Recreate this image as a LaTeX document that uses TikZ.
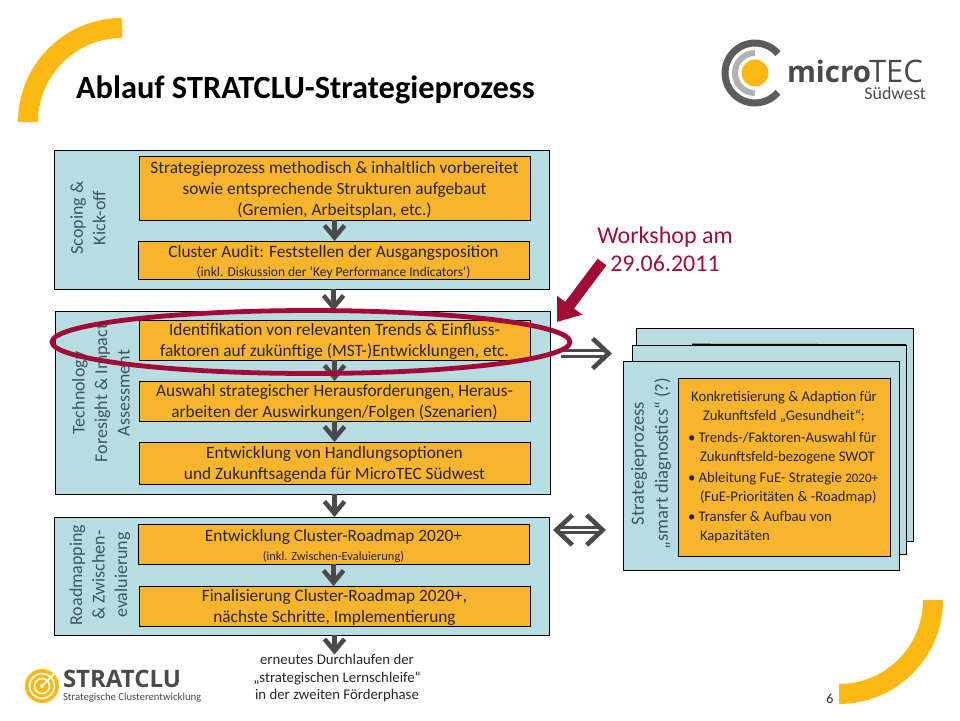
\documentclass[tikz,border=0pt]{standalone}
\usepackage{fontspec}
\setmainfont{Carlito}
\newfontfamily\logofont{Open Sans}
\usetikzlibrary{arrows.meta,calc}
\definecolor{panelblue}{HTML}{B7DDE3}
\definecolor{boxorange}{HTML}{F9B42D}
\definecolor{arrowgrey}{HTML}{4A4A4A}
\definecolor{ringred}{HTML}{A20B35}
\definecolor{labelgrey}{HTML}{3F5560}
\definecolor{sunyellow}{HTML}{FDB913}
\newcommand{\fs}[2]{\fontsize{#1}{#2}\selectfont}
\newcommand{\lift}{\rule{0pt}{15.5pt}}
\tikzset{
  panel/.style={draw=black,line width=0.9pt,fill=panelblue,inner sep=0pt,outer sep=0pt,anchor=north west},
  orangebox/.style={draw=black,line width=0.9pt,fill=boxorange,inner sep=0pt,outer sep=0pt,anchor=north west,align=center,text=black!85,font=\fs{17.3}{21}},
  sidelabel/.style={rotate=90,align=center,text=labelgrey,font=\fs{18}{22.5}},
  flowarrow/.style={draw=arrowgrey,line width=5pt,-{Straight Barb[length=12pt,width=20pt,line width=4.5pt]}},
  dblarrow/.style={draw=arrowgrey,line width=3pt,double=white,double distance=2.6pt},
  plain/.style={align=center,inner sep=0pt,outer sep=0pt},
  flowshift/.style={shift={(2.5,0)}},
  stacktext/.style={plain,text=black!85,font=\fs{14.7}{19}},
}
\begin{document}
\begin{tikzpicture}[x=1pt,y=-1pt]
\useasboundingbox (0,0) rectangle (960,720);
% corner arcs
\fill[sunyellow] (18,122) arc[start angle=180,end angle=90,x radius=104,y radius=-104] -- (122,38) arc[start angle=90,end angle=180,x radius=84,y radius=-84] -- cycle;
\fill[sunyellow] (943,600) arc[start angle=0,end angle=-90,x radius=104,y radius=-104] -- (839,684) arc[start angle=-90,end angle=0,x radius=84,y radius=-84] -- cycle;
% title
\node[plain,anchor=base west,font=\fs{32.4}{36}\bfseries] (title) at (76,98) {Ablauf STRATCLU-Strategieprozess};
% microTEC logo
\coordinate (mt) at (755,73);
\draw[arrowgrey!90,line width=7pt] ($(mt)+(30*0.766,-30*0.643)$) arc[start angle=40,end angle=320,x radius=30,y radius=-30];
\draw[black!30,line width=6pt] ($(mt)+(0,-20)$) arc[start angle=90,end angle=270,x radius=20,y radius=-20];
\fill[sunyellow] (mt) circle[radius=13.5];
\node[plain,anchor=base west,text=arrowgrey,font=\logofont\fs{29.5}{30}] (mtx) at (787,82) {\textbf{micro}};
\node[plain,anchor=base west,text=arrowgrey,font=\logofont\fs{31}{31}] (mty) at (869,82) {TEC};
\node[plain,anchor=base east,text=arrowgrey,font=\fs{18}{20}] (sw) at (926,99) {Südwest};
% panels
\node[panel,minimum width=495pt,minimum height=139pt] (p1) at (54,150) {};
\node[panel,minimum width=495pt,minimum height=183pt] (p2) at (55,311) {};
\node[panel,minimum width=495pt,minimum height=118pt] (p3) at (54,517) {};
% side labels
\node[sidelabel] (l1) at (88,218) {Scoping \&\\Kick-off};
\node[sidelabel] (l2) at (101,393) {Technology\\Foresight \& Impact\\Assessment};
\node[sidelabel] (l3) at (100,575) {Roadmapping\\\& Zwischen-\\evaluierung};
% orange boxes
\node[orangebox,minimum width=391pt,minimum height=64pt] (o1) at (139,156) {\lift Strategieprozess methodisch \& inhaltlich vorbereitet\\sowie entsprechende Strukturen aufgebaut\\(Gremien, Arbeitsplan, etc.)};
\node[orangebox,minimum width=391pt,minimum height=38pt] (o2) at (138,241) {\lift Cluster Audit: Feststellen der Ausgangsposition\\[-2pt]{\fs{13.5}{14}(inkl. Diskussion der `Key Performance Indicators`)}};
\node[orangebox,minimum width=391pt,minimum height=40pt] (o3) at (139,320) {\lift Identifikation von relevanten Trends \& Einfluss-\\faktoren auf zukünftige (MST-)Entwicklungen, etc.};
\node[orangebox,minimum width=391pt,minimum height=40pt] (o4) at (139,381) {\lift Auswahl strategischer Herausforderungen, Heraus-\\arbeiten der Auswirkungen/Folgen (Szenarien)};
\node[orangebox,minimum width=391pt,minimum height=42pt] (o5) at (139,442) {\lift Entwicklung von Handlungsoptionen\\und Zukunftsagenda für MicroTEC Südwest};
\node[orangebox,minimum width=391pt,minimum height=40pt] (o6) at (138,524) {\lift Entwicklung Cluster-Roadmap 2020+\\[-2pt]{\fs{12.4}{14}(inkl. Zwischen-Evaluierung)}};
\node[orangebox,minimum width=391pt,minimum height=40pt] (o7) at (139,586) {\lift Finalisierung Cluster-Roadmap 2020+,\\nächste Schritte, Implementierung};
% flow arrows
\draw[flowarrow,flowshift] (o1.south) -- (o1.south |- o2.north);
\draw[flowarrow,flowshift] (o2.south |- p1.south) -- (o2.south |- p2.north);
\draw[flowarrow,flowshift] (o3.south) -- (o3.south |- o4.north);
\draw[flowarrow,flowshift] (o4.south) -- (o4.south |- o5.north);
\draw[flowarrow,flowshift] (o5.south |- p2.south) -- (o5.south |- p3.north);
\draw[flowarrow,flowshift] (o6.south) -- (o6.south |- o7.north);
\node[plain,anchor=north,text=black!85,font=\fs{14.8}{17.5}] (next) at (337,654.5) {erneutes Durchlaufen der\\„strategischen Lernschleife“\\in der zweiten Förderphase};
\draw[flowarrow,flowshift] (o7.south |- p3.south) -- (o7.south |- next.north);
% right stack
\node[panel,minimum width=277pt,minimum height=213pt] (s3) at (636,328) {};
\node[panel,minimum width=274pt,minimum height=209pt] (s2) at (632,345) {};
\coordinate (s2top) at (692,344.5);
\draw[line width=1.6pt] (s2top) -- (s2.north east);
\node[panel,minimum width=276pt,minimum height=209pt] (s1) at (623,361) {};
\node[orangebox,minimum width=212pt,minimum height=178pt] (so) at (678,378) {};
\node[sidelabel,font=\fs{18.6}{24}] (sl) at (651,463.5) {Strategieprozess\\„smart diagnostics“ (?)};
\node[stacktext,anchor=north] (st0) at (784,391) {Konkretisierung \& Adaption für\\Zukunftsfeld „Gesundheit“:};
\node[stacktext,anchor=north west,align=left] (st1) at (688,432) {• Trends-/Faktoren-Auswahl für\\\hspace*{12pt}Zukunftsfeld-bezogene SWOT};
\node[stacktext,anchor=north west,align=left] (st2) at (688,472) {• Ableitung FuE- Strategie {\fs{13}{18}2020+}\\\hspace*{12pt}(FuE-Prioritäten \& -Roadmap)};
\node[stacktext,anchor=north west,align=left] (st3) at (688,511) {• Transfer \& Aufbau von\\\hspace*{12pt}Kapazitäten};
% double arrows
\coordinate (d1a) at (561,353.5); \coordinate (d1b) at (612,353.5);
\coordinate (d2a) at (553,530); \coordinate (d2b) at (606,530);
\draw[dblarrow,-{Straight Barb[length=16pt,width=30pt,line width=4.6pt]}] (d1a) -- (d1b);
\draw[dblarrow,{Straight Barb[length=16pt,width=30pt,line width=4.6pt]}-{Straight Barb[length=16pt,width=30pt,line width=4.6pt]}] (d2a) -- (d2b);
% highlight ellipse and callout
\draw[ringred,line width=4.8pt] (311,342) ellipse[x radius=259,y radius=31.5];
\node[plain,text=ringred,font=\fs{24}{28}] (ws) at (665,249) {Workshop am\\29.06.2011};
\coordinate (wa) at (602,262); \coordinate (wb) at (557,322);
\draw[ringred,line width=11pt,-{Triangle[length=21pt,width=30pt]}] (wa) -- (wb);
% stratclu logo
\coordinate (sc) at (42,686);
\fill[sunyellow] (sc) circle[radius=17];
\draw[white,line width=1.6pt] (sc) circle[radius=12.5];
\draw[white,line width=1.6pt] (sc) circle[radius=7.5];
\fill[white] (sc) circle[radius=2];
\draw[white,line width=1.6pt] (sc) -- ++(12,-12);
\node[plain,anchor=base west,text=arrowgrey,font=\logofont\bfseries\fs{24}{26}] (sc1) at (63,687) {STRATCLU};
\node[plain,anchor=base west,text=arrowgrey,font=\fs{10.7}{13}] (sc2) at (63,700) {Strategische Clusterentwicklung};
\node[plain,text=black!85,font=\fs{14}{16}] (pg) at (830,699) {6};
\end{tikzpicture}
\end{document}
